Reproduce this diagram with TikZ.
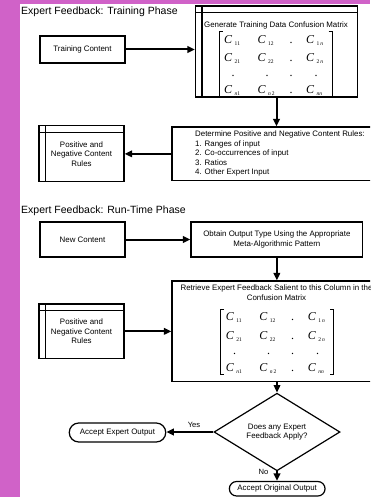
\documentclass[tikz,border=0pt]{standalone}
\usepackage{fontspec}
\setmainfont{Liberation Sans}
\newfontfamily\mtxfont{Liberation Serif}
\usetikzlibrary{arrows.meta,shapes.geometric}
\definecolor{bandpurple}{RGB}{208,98,200}

% one matrix entry: italic C with a lowered index
\newcommand\Centry[1]{{\itshape C}\kern2.5pt\raisebox{-2pt}{\fontsize{5.5}{6}\selectfont #1}}

% confusion matrix; #1 = name prefix, #2 = top of the left bracket
\newcommand\confusionmatrix[2]{%
  \begin{scope}[shift={#2}]
    \draw[bracket] (3.5,0) -- (0,0) -- (0,65) -- (3.5,65);
    \draw[bracket] (109.5,0) -- (113,0) -- (113,65) -- (109.5,65);
    \foreach \r/\y/\a/\b/\c in {1/11.5/11/12/1\,\textit{n}, 2/30/21/22/2\,\textit{n}, n/62/\textit{n}1/\textit{n}\,2/\textit{nn}} {
      \node[entry] (#1-\r-1) at (5,\y) {\Centry{\a}};
      \node[entry] (#1-\r-2) at (38.5,\y) {\Centry{\b}};
      \node[mdot]  (#1-\r-d) at (72,\y) {.};
      \node[entry] (#1-\r-n) at (87,\y) {\Centry{\c}};
    }
    \foreach \k/\x in {1/14, 2/48, 3/72, 4/97}
      \node[mdot] (#1-dots-\k) at (\x,45) {.};
  \end{scope}}

\tikzset{
  box/.style={draw, line width=1.2pt, inner sep=0pt, fill=white},
  store/.style={box, path picture={
      \draw[line width=1.1pt]
        ([xshift=6.5pt]path picture bounding box.north west) --
        ([xshift=6.5pt]path picture bounding box.south west);
      \draw[line width=1.1pt]
        ([yshift=-6.5pt]path picture bounding box.north west) --
        ([yshift=-6.5pt]path picture bounding box.north east);}},
  txt/.style={font=\fontsize{7.9}{9.5}\selectfont, align=center, inner sep=0pt},
  lbl/.style={font=\fontsize{7.6}{9}\selectfont, inner sep=0pt},
  heading/.style={anchor=base west, inner sep=0pt, font=\fontsize{10.5}{12}\selectfont},
  arr/.style={line width=2pt, -{Triangle[length=7.5pt,width=6.5pt]}},
  bracket/.style={line width=0.6pt},
  entry/.style={anchor=base west, inner sep=0pt, font=\mtxfont\fontsize{12}{14}\selectfont},
  mdot/.style={anchor=base, inner sep=0pt, font=\mtxfont\fontsize{12}{14}\selectfont},
  decision/.style={diamond, draw, line width=1.2pt, fill=white, inner sep=0pt,
                   minimum width=126pt, minimum height=60pt},
  terminal/.style={box},
}

\begin{document}
\begin{tikzpicture}[x=1pt,y=-1pt]
  \useasboundingbox (0,0) rectangle (370,497);
  \clip (0,0) rectangle (370,497);
  \fill[bandpurple] (0,0) rectangle (370,497);
  \fill[white] (19.5,4.5) rectangle (370,497);

  % ---------- training phase ----------
  \node[heading] (h1) at (21,15) {Expert Feedback: Training Phase};

  \node[box, txt, minimum width=85pt, minimum height=27pt] (train) at (82.5,49.5) {Training Content};

  \node[store, minimum width=162pt, minimum height=91pt] (gen) at (276.5,51.5) {};
  \node[txt] (gen-t) at (276,25) {Generate Training Data Confusion Matrix};
  \confusionmatrix{gm}{(219,31.7)}

  \node[box, minimum width=209pt, minimum height=53.7pt] (det) at (276.5,153.85) {};
  \node[txt, align=left, anchor=west] (det-t) at (195,153.5)
    {Determine Positive and Negative Content Rules:\\
     1. Ranges of input\\
     2. Co-occurrences of input\\
     3. Ratios\\
     4. Other Expert Input};

  \node[store, txt, minimum width=85pt, minimum height=56pt] (rules1) at (81.5,153.7)
    {Positive and\\Negative Content\\Rules};

  \draw[arr] (train.east) -- (train.east -| gen.west);
  \draw[arr] (gen.south) -- (gen.south |- det.north);
  \draw[arr] (det.west) -- (det.west -| rules1.east);

  % ---------- run-time phase ----------
  \node[heading] (h2) at (21,213.7) {Expert Feedback: Run-Time Phase};

  \node[box, txt, minimum width=85pt, minimum height=35pt] (new) at (82.5,239.5) {New Content};
  \node[box, txt, minimum width=171.7pt, minimum height=35pt] (obt) at (276.85,239.5)
    {Obtain Output Type Using the Appropriate\\Meta-Algorithmic Pattern};

  \node[box, minimum width=209pt, minimum height=100.7pt] (ret) at (276.5,331.35) {};
  \node[txt] (ret-t) at (276.5,292.8)
    {Retrieve Expert Feedback Salient to this Column in the\\Confusion Matrix};
  \confusionmatrix{rm}{(220.7,309.3)}

  \node[store, txt, minimum width=85pt, minimum height=54.7pt] (rules2) at (81.5,331.35)
    {Positive and\\Negative Content\\Rules};

  \node[decision, txt] (dec) at (277,432) {Does any Expert\\Feedback Apply?};

  \node[terminal, txt, minimum width=96.5pt, minimum height=19pt, rounded corners=9.5pt]
    (expert) at (117.5,432.5) {Accept Expert Output};
  \node[terminal, txt, minimum width=95.7pt, minimum height=14.5pt, rounded corners=7.25pt]
    (orig) at (277.2,488.75) {Accept Original Output};

  \draw[arr] (new.east) -- (new.east -| obt.west);
  \draw[arr] (obt.south) -- (obt.south |- ret.north);
  \draw[arr] (rules2.east) -- (rules2.east -| ret.west);
  \draw[arr] (ret.south -| dec.north) -- (dec.north);
  \draw[arr] (dec.west) -- (dec.west -| expert.east);
  \draw[arr] (dec.south) -- (dec.south |- orig.north);

  \node[lbl] (yes) at (194,425) {Yes};
  \node[lbl] (no) at (263.5,471.5) {No};
\end{tikzpicture}
\end{document}
